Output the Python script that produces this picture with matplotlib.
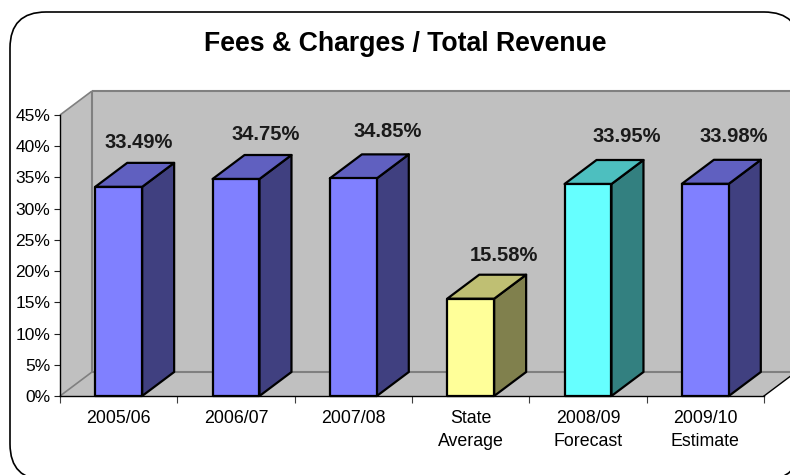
import matplotlib.pyplot as plt
from matplotlib.patches import FancyBboxPatch, Polygon

W, H = 790, 475

categories = ["2005/06", "2006/07", "2007/08", "State\nAverage", "2008/09\nForecast", "2009/10\nEstimate"]
values = [33.49, 34.75, 34.85, 15.58, 33.95, 33.98]
y_ticks = [0, 5, 10, 15, 20, 25, 30, 35, 40, 45]

# front, top, side
blue = ("#8080ff", "#6060c0", "#404080")
yellow = ("#ffff99", "#bfbf73", "#80804d")
cyan = ("#66ffff", "#4dbfbf", "#338080")
bar_colors = [blue, blue, blue, yellow, cyan, blue]

# label centre relative to the bar's front top centre, in pixels
label_dx = [20, 30, 34, 33, 39, 28]
label_dy = [44, 45, 47, 43, 48, 47]

plt.rcParams["font.family"] = ["Liberation Sans", "DejaVu Sans"]

fig = plt.figure(figsize=(W / 100, H / 100), dpi=100, facecolor="white")

# rounded frame runs off the right and bottom of the picture
bg = fig.add_axes([0, 0, 1, 1])
bg.set_xlim(0, W)
bg.set_ylim(H, 0)
bg.axis("off")
bg.add_patch(FancyBboxPatch((45, 47), 720, 398,
                            boxstyle="round,pad=35,rounding_size=36",
                            fc="white", ec="black", lw=1.2))

x0, x1, y0, y45 = 60, 764, 396, 115
ax = fig.add_axes([x0 / W, 1 - y0 / H, (x1 - x0) / W, (y0 - y45) / H])
ax.set_xlim(0, len(categories))
ax.set_ylim(0, 45)
ax.patch.set_visible(False)

# 3D depth in data units
dx = 32 / ((x1 - x0) / len(categories))
dy = 24 / ((y0 - y45) / 45)
n = len(categories)
wall = "#c0c0c0"
grey = "#808080"

ax.add_patch(Polygon([(dx, dy), (n + dx, dy), (n + dx, 45 + dy), (dx, 45 + dy)], fc=wall, ec="none", clip_on=False, zorder=1))
ax.add_patch(Polygon([(0, 0), (dx, dy), (dx, 45 + dy), (0, 45)], fc=wall, ec="none", clip_on=False, zorder=1))
ax.add_patch(Polygon([(0, 0), (n, 0), (n + dx, dy), (dx, dy)], fc=wall, ec="none", clip_on=False, zorder=1))
line_kw = dict(color=grey, clip_on=False, zorder=2, solid_capstyle="butt")
ax.plot([dx, n + dx], [45 + dy, 45 + dy], lw=1.5, **line_kw)
ax.plot([dx, n + dx], [dy, dy], lw=1.5, **line_kw)
ax.plot([dx, dx], [dy, 45 + dy], lw=1.5, **line_kw)
ax.plot([0, dx], [45, 45 + dy], lw=1.2, **line_kw)
ax.plot([0, dx], [0, dy], lw=1.2, **line_kw)
ax.plot([n, n + dx], [0, dy], lw=1, color="black", clip_on=False, zorder=2)

bar_w = 0.4
for i, (v, cols) in enumerate(zip(values, bar_colors)):
    l, r = i + 0.5 - bar_w / 2, i + 0.5 + bar_w / 2
    style = dict(ec="black", lw=1.6, joinstyle="round", clip_on=False, zorder=3)
    ax.add_patch(Polygon([(r, 0), (r + dx, dy), (r + dx, v + dy), (r, v)], fc=cols[2], **style))
    ax.add_patch(Polygon([(l, v), (r, v), (r + dx, v + dy), (l + dx, v + dy)], fc=cols[1], **style))
    ax.add_patch(Polygon([(l, 0), (r, 0), (r, v), (l, v)], fc=cols[0], **style))
    ax.annotate(f"{v:.2f}%", (i + 0.5, v), xytext=(label_dx[i] * 0.72, label_dy[i] * 0.72),
                textcoords="offset points", ha="center", va="center",
                fontsize=14.5, fontweight="bold", color="#1a1a1a", zorder=5)

ax.set_yticks(y_ticks)
ax.set_yticklabels([f"{t}%" for t in y_ticks], fontsize=12.5)
ax.set_xticks(range(n + 1))
ax.set_xticklabels([])
ax.set_xticks([i + 0.5 for i in range(n)], categories, minor=True, fontsize=12.8, linespacing=1.5)
ax.tick_params(axis="x", which="minor", length=0, pad=10)
ax.tick_params(axis="x", which="major", length=5, width=0.8, color="#404040")
ax.tick_params(axis="y", length=4, width=0.8, color="#202020", pad=3)
for s in ("top", "right"):
    ax.spines[s].set_visible(False)
for s in ("left", "bottom"):
    ax.spines[s].set_linewidth(1.0)
    ax.spines[s].set_zorder(4)

fig.text(405 / W, 1 - 44 / H, "Fees & Charges / Total Revenue", ha="center", va="center",
         fontsize=19.2, fontweight="bold", color="black")

fig.savefig("out.png", dpi=100)
plt.close(fig)
